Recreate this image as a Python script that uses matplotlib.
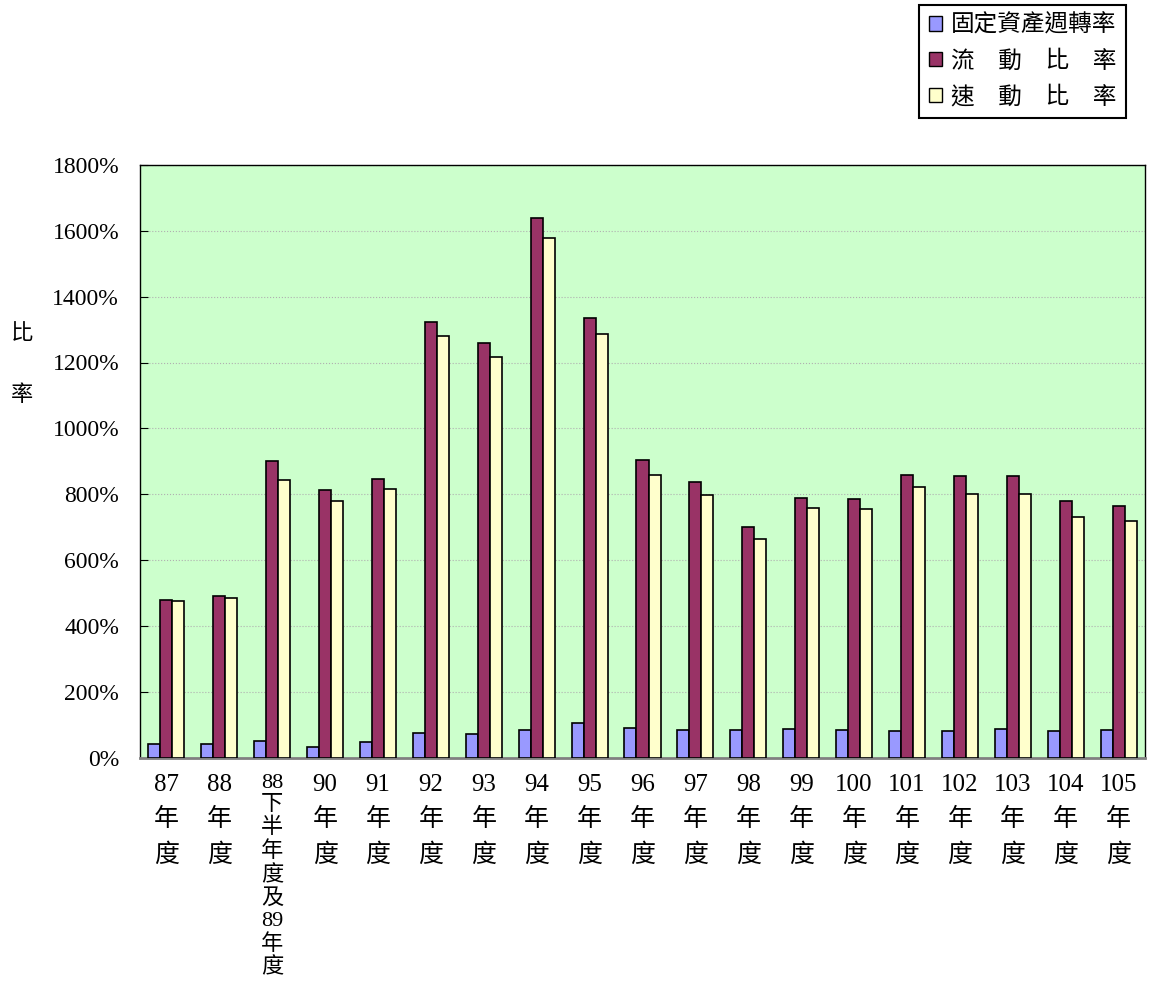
import numpy as np
import matplotlib
matplotlib.use('Agg')
import matplotlib.pyplot as plt
from matplotlib.ticker import PercentFormatter, MultipleLocator
from matplotlib.patches import Patch

plt.rcParams['font.family'] = ['Liberation Serif', 'Noto Sans CJK TC']

years = ['87', '88', '88下半年度及89', '90', '91', '92', '93', '94', '95', '96',
         '97', '98', '99', '100', '101', '102', '103', '104', '105']
tick_labels = ['87\n年\n度', '88\n年\n度', '88\n下\n半\n年\n度\n及\n89\n年\n度',
               '90\n年\n度', '91\n年\n度', '92\n年\n度', '93\n年\n度', '94\n年\n度',
               '95\n年\n度', '96\n年\n度', '97\n年\n度', '98\n年\n度', '99\n年\n度',
               '100\n年\n度', '101\n年\n度', '102\n年\n度', '103\n年\n度',
               '104\n年\n度', '105\n年\n度']

# values in percent
fixed_asset_turnover = [42, 40, 49, 31, 46, 75, 70, 83, 105, 90, 85, 85, 86, 84, 81, 81, 86, 81, 85]
current_ratio = [479, 490, 902, 814, 847, 1322, 1258, 1640, 1334, 905, 838, 699, 787, 784, 857, 854, 854, 778, 763]
quick_ratio = [476, 486, 844, 778, 817, 1279, 1216, 1578, 1286, 857, 796, 663, 757, 754, 823, 799, 802, 730, 720]

series_names = ['固定資產週轉率', '流　動　比　率', '速　動　比　率']
colors = ['#9999FF', '#993366', '#FFFFCC']

fig = plt.figure(figsize=(11.5, 9.82), dpi=100)
ax = fig.add_axes([140 / 1150, 1 - 757.5 / 982, 1005 / 1150, (757.5 - 165) / 982])
ax.set_facecolor('#CCFFCC')

x = np.arange(len(years))
w = 0.227
for i, (vals, c) in enumerate(zip([fixed_asset_turnover, current_ratio, quick_ratio], colors)):
    ax.bar(x + (i - 1) * w, vals, width=w, color=c, edgecolor='black', linewidth=1.2, zorder=3)

ax.set_xlim(-0.5, len(years) - 0.5)
ax.set_ylim(0, 1800)
ax.yaxis.set_major_locator(MultipleLocator(200))
ax.yaxis.set_major_formatter(PercentFormatter(xmax=100, decimals=0))
ax.grid(axis='y', color='#b0b0b0', linestyle=':', linewidth=0.8, zorder=0)

ax.set_xticks(x)
ax.set_xticklabels(tick_labels, fontsize=18, linespacing=1.65, va='top')
long_lbl = ax.get_xticklabels()[2]
long_lbl.set_fontsize(16)
long_lbl.set_linespacing(1.2)
ax.tick_params(axis='x', length=0, pad=12)
ax.tick_params(axis='y', direction='in', length=6, labelsize=17, pad=15)

for s in ['left', 'top', 'right']:
    ax.spines[s].set_color('black')
    ax.spines[s].set_linewidth(1)
ax.spines['bottom'].set_color('#808080')
ax.spines['bottom'].set_linewidth(2)

fig.text(22 / 1150, 1 - 365 / 982, '比\n率', fontsize=16, linespacing=3.6,
         ha='center', va='center')

handles = [Patch(facecolor=c, edgecolor='black', linewidth=1) for c in colors]
leg = fig.legend(handles, series_names, loc='upper right',
                 bbox_to_anchor=(1126 / 1150, 1 - 5 / 982), fontsize=17,
                 fancybox=False, edgecolor='black', framealpha=1,
                 handlelength=0.55, handleheight=0.55, handletextpad=0.4,
                 borderpad=0.4, labelspacing=0.55, borderaxespad=0)
leg.get_frame().set_linewidth(1.5)

fig.savefig('out.png', dpi=100)
